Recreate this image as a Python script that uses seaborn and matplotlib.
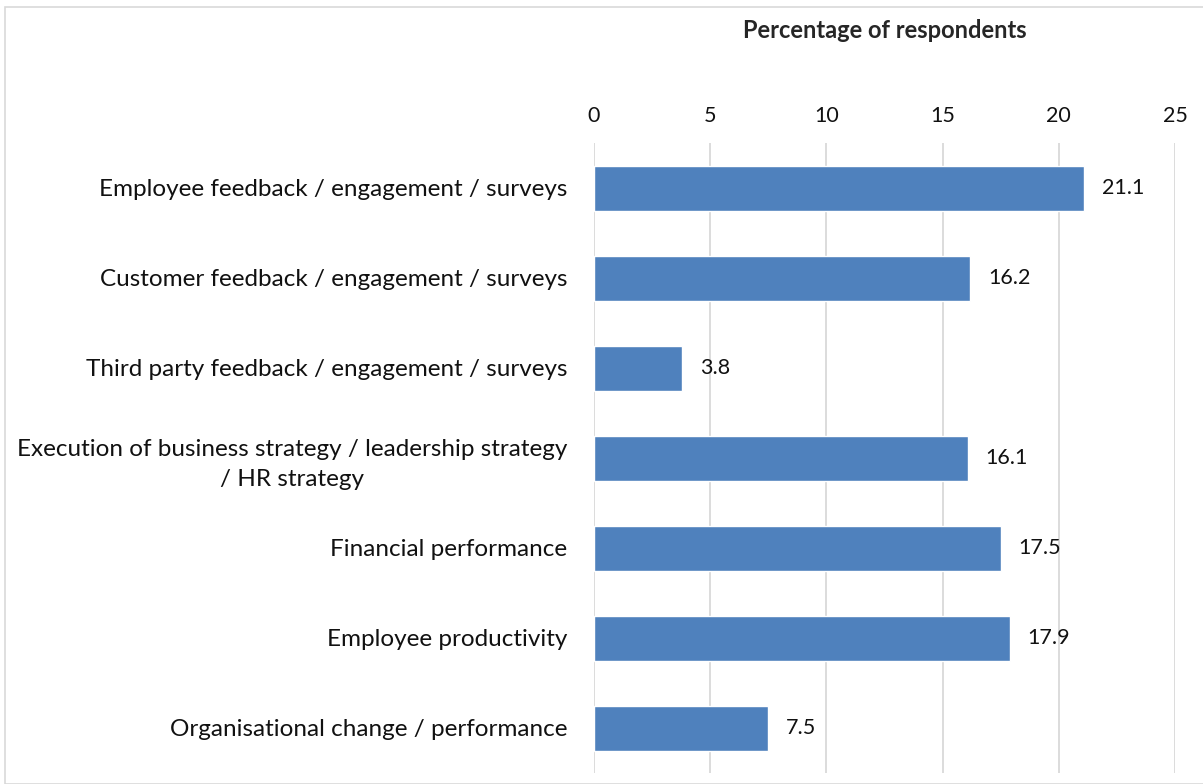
import matplotlib
matplotlib.use("Agg")
import matplotlib.pyplot as plt
import seaborn as sns
import pandas as pd
from matplotlib.patches import Rectangle

categories = [
    "Employee feedback / engagement / surveys",
    "Customer feedback / engagement / surveys",
    "Third party feedback / engagement / surveys",
    "Execution of business strategy / leadership strategy\n/ HR strategy",
    "Financial performance",
    "Employee productivity",
    "Organisational change / performance",
]
values = [21.1, 16.2, 3.8, 16.1, 17.5, 17.9, 7.5]
x_ticks = [0, 5, 10, 15, 20, 25]
x_label = "Percentage of respondents"

sns.set_theme(style="white")
plt.rcParams["font.family"] = ["Lato", "DejaVu Sans"]

df = pd.DataFrame({"category": categories, "value": values})

fig = plt.figure(figsize=(12.03, 7.84), dpi=100)
ax = fig.add_axes([594 / 1203, 1 - 773 / 784, (1175 - 594) / 1203, (773 - 143) / 784])

sns.barplot(data=df, x="value", y="category", color="#4F81BD", saturation=1,
            width=0.5, ax=ax, zorder=3)

ax.set_xlim(0, 25)
ax.set_xticks(x_ticks)
ax.set_xticklabels([str(t) for t in x_ticks])
ax.xaxis.tick_top()
ax.xaxis.set_label_position("top")
ax.set_xlabel(x_label, fontsize=17, fontweight="bold", labelpad=49)
ax.set_ylabel("")
ax.tick_params(axis="x", length=0, pad=12, labelsize=15.5, colors="#111111")
ax.tick_params(axis="y", length=0, pad=19, labelsize=17.5, colors="#111111")
for lab in ax.get_yticklabels():
    lab.set_multialignment("center")
    lab.set_linespacing(1.5)

ax.grid(axis="x", color="#D9D9D9", linewidth=1.3, zorder=0)
ax.grid(axis="y", visible=False)
for s in ax.spines.values():
    s.set_visible(False)

for i, v in enumerate(values):
    ax.text(v + 0.75, i, f"{v}", va="center", ha="left", fontsize=15.5, color="#111111")

# light outer frame
fig.patches.append(Rectangle((5 / 1203, 0), 1.2, 1 - 7 / 784, transform=fig.transFigure,
                             fill=False, edgecolor="#D9D9D9", linewidth=1.2))

fig.savefig("out.png", dpi=100)
